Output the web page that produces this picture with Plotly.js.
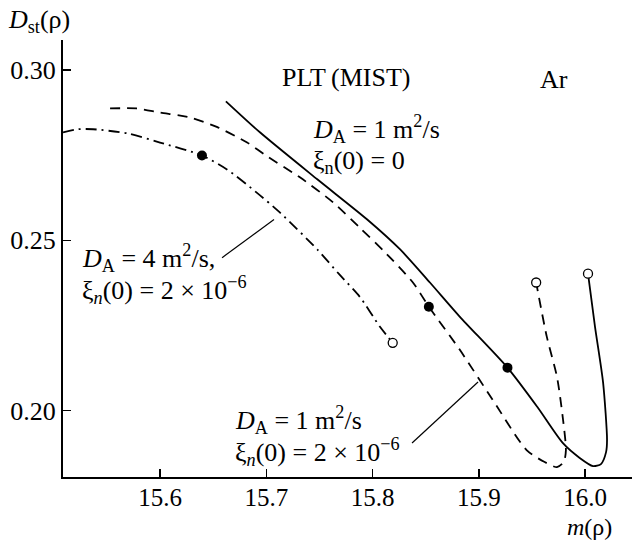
<!DOCTYPE html>
<html>
<head>
<meta charset="utf-8">
<script src="https://cdn.plot.ly/plotly-3.0.1.min.js"></script>
<style>
  html, body { margin: 0; padding: 0; background: #fff; }
  #chart { width: 632px; height: 540px; }
</style>
</head>
<body>
<div id="chart"></div>
<script>
// Stationary profile D_st versus m(rho) for argon, PLT (MIST) runs

// D_A = 1 m^2/s, xi_n(0) = 0  (solid)
const solidX = [15.662, 15.694, 15.748, 15.795, 15.826, 15.854, 15.882, 15.927, 15.955, 15.979,
                15.995, 16.0075, 16.015, 16.0198, 16.0207, 16.017, 16.0094, 16.0028];
const solidY = [0.2908, 0.2817, 0.2679, 0.2561, 0.2473, 0.2376, 0.2276, 0.2126, 0.2011, 0.1905,
                0.1861, 0.1837, 0.1843, 0.1878, 0.1914, 0.2082, 0.2246, 0.2402];

// D_A = 1 m^2/s, xi_n(0) = 2e-6  (dashed)
const dashX = [15.553, 15.578, 15.600, 15.628, 15.654, 15.682, 15.701, 15.732, 15.763, 15.788,
               15.812, 15.838, 15.853, 15.882, 15.913, 15.945, 15.962, 15.9736, 15.980, 15.982,
               15.979, 15.9736, 15.964, 15.954];
const dashY = [0.2887, 0.2887, 0.2875, 0.2861, 0.2832, 0.2787, 0.2746, 0.2684, 0.2611, 0.2537,
               0.2464, 0.2376, 0.2305, 0.2179, 0.2032, 0.1884, 0.1849, 0.1834, 0.1849, 0.1884,
               0.1981, 0.2099, 0.2217, 0.2376];

// D_A = 4 m^2/s, xi_n(0) = 2e-6  (dash-dot)
const dotDashX = [15.5087, 15.523, 15.537, 15.569, 15.600, 15.6395, 15.663, 15.691, 15.713, 15.748,
                  15.769, 15.788, 15.807, 15.819];
const dotDashY = [0.2817, 0.2826, 0.2826, 0.2814, 0.2787, 0.2749, 0.2708, 0.2640, 0.2581, 0.2473,
                  0.2399, 0.2334, 0.2246, 0.2199];

// filled markers on each curve
const filledX = [15.6395, 15.853, 15.927];
const filledY = [0.2749, 0.2305, 0.2126];

// open circles at the curve ends
const openX = [dotDashX[dotDashX.length - 1], dashX[dashX.length - 1], solidX[solidX.length - 1]];
const openY = [dotDashY[dotDashY.length - 1], dashY[dashY.length - 1], solidY[solidY.length - 1]];

const xTicks = [15.6, 15.7, 15.8, 15.9, 16.0];
const yTicks = [0.20, 0.25, 0.30];

const FONT = 'Liberation Serif, Times New Roman, serif';
const FS = 26;
const LW = 1.8;

const traces = [
  { x: solidX, y: solidY, mode: 'lines', line: { color: '#000', width: LW, shape: 'spline', smoothing: 0.7 } },
  { x: dashX, y: dashY, mode: 'lines', line: { color: '#000', width: LW, dash: '10px,7px', shape: 'spline', smoothing: 0.7 } },
  { x: dotDashX, y: dotDashY, mode: 'lines', line: { color: '#000', width: LW, dash: '11px,5px,2px,5px', shape: 'spline', smoothing: 0.7 } },
  { x: filledX, y: filledY, mode: 'markers', marker: { color: '#000', size: 10, line: { width: 0 } } },
  { x: openX, y: openY, mode: 'markers', marker: { color: '#fff', size: 9, symbol: 'circle', line: { color: '#000', width: 1.3 } } }
];

function label(text, x, y, extra) {
  return Object.assign({ text: text, x: x, y: y, xref: 'x', yref: 'y', xanchor: 'left', yanchor: 'middle',
                         showarrow: false, font: { family: FONT, size: FS, color: '#000' } }, extra || {});
}

const annotations = [
  { text: '<i>D</i><sub>st</sub>(ρ)', xref: 'paper', yref: 'paper', x: -0.1, y: 1.043,
    xanchor: 'left', yanchor: 'middle', showarrow: false, font: { family: FONT, size: FS, color: '#000' } },
  { text: '<i>m</i>(ρ)', xref: 'paper', yref: 'paper', x: 0.967, y: -0.1135,
    xanchor: 'right', yanchor: 'middle', showarrow: false, borderpad: 0,
    font: { family: FONT, size: 24, color: '#000' } },
  label('PLT\u2009(MIST)', 15.7130, 0.2979),
  label('Ar', 15.9560, 0.2973),
  label('<i>D</i><sub>A</sub> = 1 m<sup>2</sup>/s', 15.7420, 0.2826),
  label('ξ<sub>n</sub>(0) = 0', 15.7420, 0.2729),
  label('<i>D</i><sub>A</sub> = 4 m<sup>2</sup>/s,', 15.5250, 0.2449),
  label('ξ<sub><i>n</i></sub>(0) = 2 × 10<sup>−6</sup>', 15.5250, 0.2355),
  label('<i>D</i><sub>A</sub> = 1 m<sup>2</sup>/s', 15.6690, 0.1973),
  label('ξ<sub><i>n</i></sub>(0) = 2 × 10<sup>−6</sup>', 15.6690, 0.1879)
];

const shapes = [
  { type: 'line', xref: 'x', yref: 'y', x0: 15.6584, y0: 0.2449, x1: 15.7073, y1: 0.2561, line: { color: '#000', width: 1.2 } },
  { type: 'line', xref: 'x', yref: 'y', x0: 15.8372, y0: 0.1905, x1: 15.8993, y1: 0.2084, line: { color: '#000', width: 1.2 } }
];

const layout = {
  width: 632, height: 540,
  margin: { l: 63, r: 0, t: 40, b: 63 },
  paper_bgcolor: '#fff', plot_bgcolor: '#fff',
  showlegend: false,
  font: { family: FONT, size: FS, color: '#000' },
  xaxis: {
    range: [15.5087, 16.0442], tickvals: xTicks, ticktext: xTicks.map(v => v.toFixed(1)),
    ticks: 'inside', ticklen: 8, tickwidth: 1.5, tickcolor: '#000', ticklabelstandoff: -3,
    showline: true, linecolor: '#000', linewidth: 2, showgrid: false, zeroline: false,
    tickfont: { family: FONT, size: 25, color: '#000' }
  },
  yaxis: {
    range: [0.1805, 0.3088], tickvals: yTicks, ticktext: yTicks.map(v => v.toFixed(2)),
    ticks: 'inside', ticklen: 8, tickwidth: 1.5, tickcolor: '#000',
    showline: true, linecolor: '#000', linewidth: 2, showgrid: false, zeroline: false,
    tickfont: { family: FONT, size: FS, color: '#000' }
  },
  annotations: annotations,
  shapes: shapes
};

Plotly.newPlot('chart', traces, layout, { staticPlot: true, displayModeBar: false });
</script>
</body>
</html>
